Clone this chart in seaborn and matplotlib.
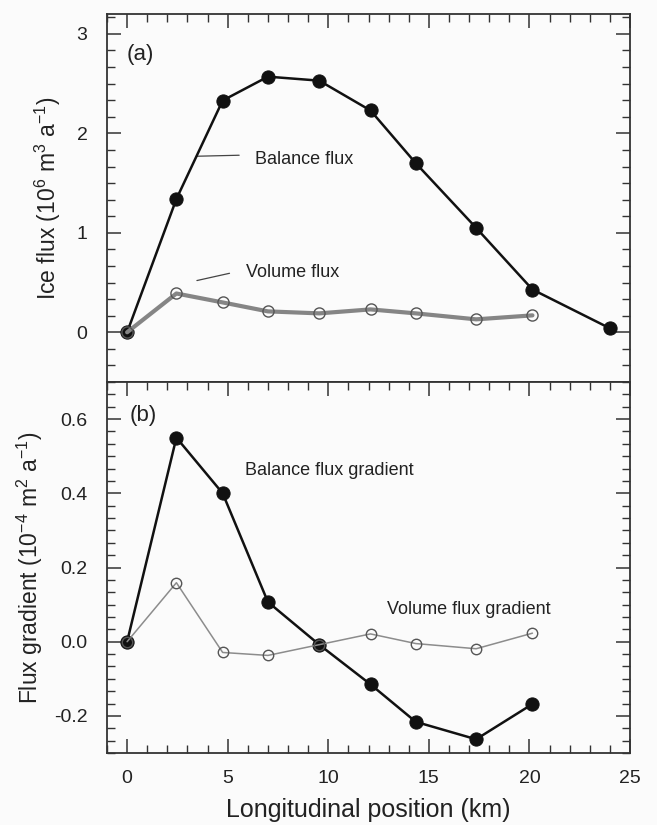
import matplotlib
matplotlib.use("Agg")
import matplotlib.pyplot as plt
from matplotlib.ticker import MultipleLocator
import seaborn as sns
import pandas as pd

# ---- data ----
x_bal = [0, 2.45, 4.75, 7.0, 9.55, 12.1, 14.35, 17.35, 20.15, 24.0]
balance_flux = [0, 1.34, 2.33, 2.57, 2.53, 2.23, 1.70, 1.05, 0.43, 0.04]
x_vol = [0, 2.45, 4.75, 7.0, 9.55, 12.1, 14.35, 17.35, 20.15]
volume_flux = [0, 0.39, 0.30, 0.21, 0.19, 0.23, 0.19, 0.13, 0.17]
balance_grad = [0, 0.55, 0.40, 0.107, -0.008, -0.115, -0.216, -0.263, -0.168]
volume_grad = [0, 0.159, -0.029, -0.037, -0.008, 0.021, -0.005, -0.019, 0.023]
x_ticks = [0, 5, 10, 15, 20, 25]
y_ticks_a = [0, 1, 2, 3]
y_ticks_b = [-0.2, 0.0, 0.2, 0.4, 0.6]

sns.set_style("ticks")
plt.rcParams['font.family'] = ['Liberation Sans', 'DejaVu Sans']
plt.rcParams['mathtext.default'] = 'regular'

BG = "#fbfbfb"
SP = "#333333"
fig = plt.figure(figsize=(6.57, 8.25), dpi=100, facecolor=BG)
L, W = 107 / 657, 523 / 657
ax1 = fig.add_axes([L, 1 - 382 / 825, W, 368 / 825])
ax2 = fig.add_axes([L, 1 - 753 / 825, W, 371 / 825], sharex=ax1)

df_a = pd.DataFrame({"x": x_bal, "y": balance_flux})
df_av = pd.DataFrame({"x": x_vol, "y": volume_flux})
df_b = pd.DataFrame({"x": x_vol, "y": balance_grad})
df_bv = pd.DataFrame({"x": x_vol, "y": volume_grad})

# panel (a)
sns.lineplot(data=df_a, x="x", y="y", ax=ax1, color="#111111", linewidth=1.8,
             marker="o", markersize=9.5, markerfacecolor="#111111",
             markeredgecolor="#111111", zorder=3)
sns.lineplot(data=df_av, x="x", y="y", ax=ax1, color="#858585", linewidth=3.0,
             marker="o", markersize=8, markerfacecolor="none",
             markeredgecolor="#555555", markeredgewidth=1.0, zorder=4)

# panel (b)
sns.lineplot(data=df_b, x="x", y="y", ax=ax2, color="#111111", linewidth=1.8,
             marker="o", markersize=9.5, markerfacecolor="#111111",
             markeredgecolor="#111111", zorder=3)
sns.lineplot(data=df_bv, x="x", y="y", ax=ax2, color="#8c8c8c", linewidth=1.1,
             marker="o", markersize=7.5, markerfacecolor="none",
             markeredgecolor="#555555", markeredgewidth=1.0, zorder=4)

for ax in (ax1, ax2):
    ax.set_facecolor(BG)
    ax.set_xlim(-1, 25)
    ax.xaxis.set_minor_locator(MultipleLocator(1))
    for s in ax.spines.values():
        s.set_visible(True)
        s.set_color(SP)
        s.set_linewidth(1.3)
    ax.tick_params(which="major", direction="in", length=10, width=1.1,
                   color=SP, labelsize=14, labelcolor="#222222")
    ax.tick_params(which="minor", direction="in", length=5.5, width=1.0, color=SP)
    ax.tick_params(axis="y", which="both", left=True, right=True, pad=14)

ax1.set_ylim(-0.5, 3.2)
ax1.set_yticks(y_ticks_a)
ax1.set_yticklabels([str(v) for v in y_ticks_a])
ax1.yaxis.set_minor_locator(MultipleLocator(1 / 6))
ax1.tick_params(axis="x", which="both", top=True, bottom=False,
                labelbottom=False, labeltop=False)

ax2.set_ylim(-0.3, 0.7)
ax2.set_yticks(y_ticks_b)
ax2.set_yticklabels([f"{v:.1f}" for v in y_ticks_b])
ax2.yaxis.set_minor_locator(MultipleLocator(0.2 / 6))
ax2.set_xticks(x_ticks)
ax2.set_xticklabels([str(v) for v in x_ticks])
ax2.tick_params(axis="x", which="both", top=True, bottom=True, pad=12)

ax1.set_xlabel("")
ax1.set_ylabel("Ice flux (10$^{6}$ m$^{3}$ a$^{-1}$)", fontsize=16.5, color="#222222")
ax1.yaxis.label.set_va("center")
ax1.yaxis.set_label_coords(-0.113, 0.5)
ax2.set_ylabel("Flux gradient (10$^{-4}$ m$^{2}$ a$^{-1}$)", fontsize=16.5, color="#222222")
ax2.yaxis.label.set_va("center")
ax2.yaxis.set_label_coords(-0.147, 0.5)
ax2.set_xlabel("Longitudinal position (km)", fontsize=18, color="#222222")
ax2.xaxis.label.set_va("center")
ax2.xaxis.set_label_coords(0.5, -0.154)

# annotations
ax1.text(0.0, 2.79, "(a)", fontsize=16, va="center", ha="left", color="#222222")
ax2.text(0.1, 0.61, "(b)", fontsize=16, va="center", ha="left", color="#222222")
ax1.text(6.37, 1.74, "Balance flux", fontsize=13, va="center", ha="left", color="#222222")
ax1.plot([3.48, 5.57], [1.77, 1.78], color="#444444", linewidth=0.9)
ax1.text(5.92, 0.60, "Volume flux", fontsize=13, va="center", ha="left", color="#222222")
ax1.plot([3.47, 5.09], [0.52, 0.593], color="#444444", linewidth=0.9)
ax2.text(5.87, 0.461, "Balance flux gradient", fontsize=13, va="center", ha="left", color="#222222")
ax2.text(12.9, 0.088, "Volume flux gradient", fontsize=13, va="center", ha="left", color="#222222")

fig.savefig("out.png", dpi=100, facecolor=BG)
